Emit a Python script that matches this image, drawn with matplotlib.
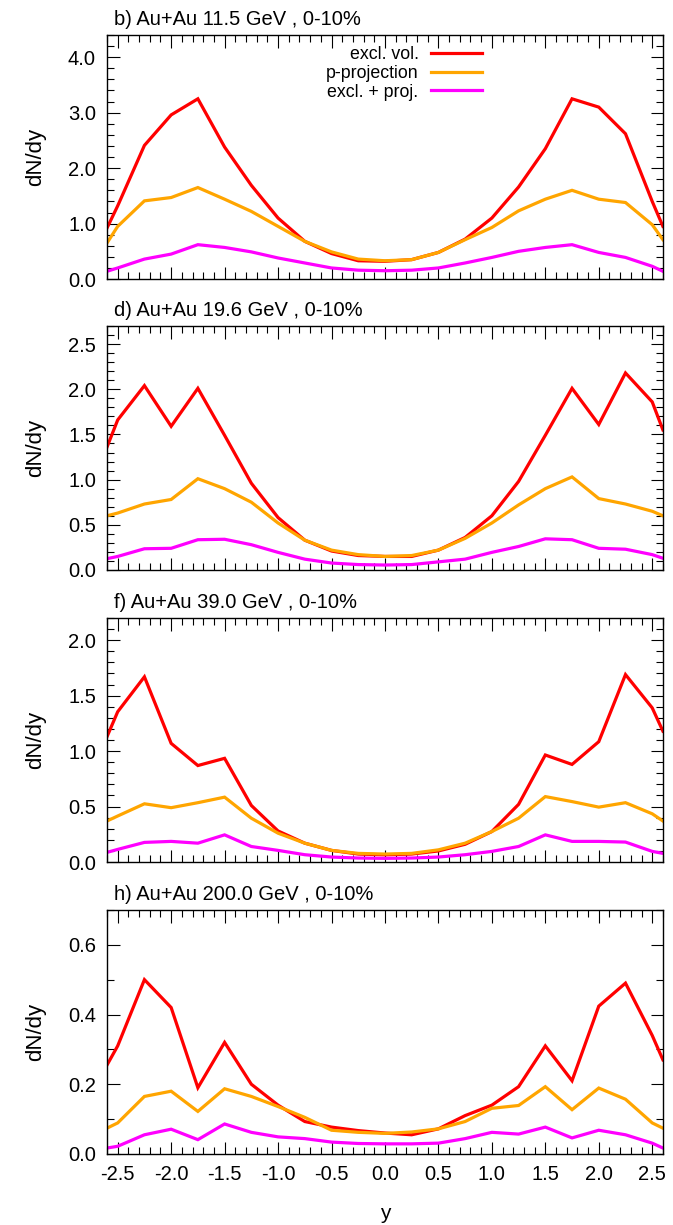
import matplotlib
matplotlib.use('Agg')
import matplotlib.pyplot as plt
from matplotlib.ticker import MultipleLocator, FormatStrFormatter

plt.rcParams['font.family'] = ['Liberation Sans', 'DejaVu Sans']

# rapidity grid
y = [-2.6, -2.5, -2.25, -2.0, -1.75, -1.5, -1.25, -1.0, -0.75, -0.5, -0.25, 0.0,
     0.25, 0.5, 0.75, 1.0, 1.25, 1.5, 1.75, 2.0, 2.25, 2.5, 2.6]

# 11.5 GeV
excl_115 = [0.92, 1.32, 2.41, 2.96, 3.25, 2.38, 1.69, 1.10, 0.68, 0.46, 0.33, 0.32,
            0.35, 0.48, 0.72, 1.10, 1.66, 2.35, 3.25, 3.10, 2.62, 1.40, 0.95]
proj_115 = [0.65, 0.95, 1.41, 1.47, 1.65, 1.44, 1.22, 0.95, 0.68, 0.49, 0.36, 0.33,
            0.35, 0.48, 0.71, 0.93, 1.23, 1.44, 1.60, 1.44, 1.38, 0.98, 0.71]
both_115 = [0.14, 0.20, 0.36, 0.45, 0.62, 0.57, 0.49, 0.38, 0.29, 0.20, 0.16, 0.15,
            0.16, 0.20, 0.29, 0.39, 0.50, 0.57, 0.62, 0.48, 0.39, 0.23, 0.14]

# 19.6 GeV
excl_196 = [1.36, 1.66, 2.04, 1.59, 2.01, 1.49, 0.96, 0.58, 0.33, 0.21, 0.16, 0.15,
            0.15, 0.22, 0.36, 0.60, 0.98, 1.49, 2.01, 1.61, 2.18, 1.86, 1.55]
proj_196 = [0.60, 0.63, 0.73, 0.78, 1.01, 0.90, 0.75, 0.52, 0.33, 0.22, 0.17, 0.15,
            0.16, 0.22, 0.35, 0.52, 0.72, 0.90, 1.03, 0.79, 0.73, 0.65, 0.60]
both_196 = [0.125, 0.15, 0.235, 0.24, 0.335, 0.34, 0.28, 0.195, 0.12, 0.077, 0.06, 0.055,
            0.06, 0.09, 0.12, 0.195, 0.26, 0.345, 0.335, 0.24, 0.23, 0.17, 0.13]

# 39.0 GeV
excl_390 = [1.13, 1.355, 1.67, 1.07, 0.87, 0.935, 0.51, 0.28, 0.17, 0.105, 0.072, 0.065,
            0.072, 0.10, 0.16, 0.275, 0.52, 0.965, 0.88, 1.085, 1.69, 1.39, 1.18]
proj_390 = [0.37, 0.415, 0.525, 0.49, 0.535, 0.585, 0.395, 0.26, 0.17, 0.105, 0.078, 0.072,
            0.078, 0.11, 0.17, 0.275, 0.395, 0.59, 0.545, 0.495, 0.535, 0.435, 0.37]
both_390 = [0.087, 0.114, 0.177, 0.186, 0.17, 0.245, 0.14, 0.105, 0.066, 0.045, 0.036, 0.033,
            0.036, 0.045, 0.066, 0.096, 0.14, 0.245, 0.186, 0.186, 0.18, 0.096, 0.078]

# 200.0 GeV
excl_200 = [0.255, 0.31, 0.50, 0.42, 0.19, 0.32, 0.20, 0.14, 0.093, 0.077, 0.067, 0.06,
            0.055, 0.072, 0.11, 0.14, 0.193, 0.31, 0.21, 0.424, 0.49, 0.34, 0.27]
proj_200 = [0.074, 0.089, 0.165, 0.18, 0.122, 0.187, 0.165, 0.136, 0.105, 0.068, 0.062, 0.059,
            0.063, 0.072, 0.093, 0.131, 0.139, 0.193, 0.127, 0.189, 0.157, 0.089, 0.074]
both_200 = [0.017, 0.022, 0.055, 0.071, 0.041, 0.086, 0.062, 0.049, 0.044, 0.034, 0.03, 0.029,
            0.029, 0.031, 0.044, 0.062, 0.057, 0.077, 0.046, 0.068, 0.055, 0.031, 0.017]

titles = ['b) Au+Au 11.5 GeV , 0-10%', 'd) Au+Au 19.6 GeV , 0-10%',
          'f) Au+Au 39.0 GeV , 0-10%', 'h) Au+Au 200.0 GeV , 0-10%']
series = [(excl_115, proj_115, both_115), (excl_196, proj_196, both_196),
          (excl_390, proj_390, both_390), (excl_200, proj_200, both_200)]
ymax = [4.4, 2.7, 2.2, 0.7]
ymajor = [1.0, 0.5, 0.5, 0.2]
yminor = [0.2, 0.1, 0.1, 0.1]

labels = ['excl. vol.', 'p-projection', 'excl. + proj.']
colors = ['#ff0000', '#ffa500', '#ff00ff']

fig = plt.figure(figsize=(6.73, 12.25), dpi=100)
bottoms = [0.7722, 0.5347, 0.2963, 0.0580]

for i in range(4):
    ax = fig.add_axes([0.159, bottoms[i], 0.826, 0.1992])
    for vals, lab, col in zip(series[i], labels, colors):
        ax.plot(y, vals, color=col, lw=2.3, label=lab, solid_joinstyle='miter')
    ax.set_xlim(-2.6, 2.6)
    ax.set_ylim(0, ymax[i])
    ax.xaxis.set_major_locator(MultipleLocator(0.5))
    ax.xaxis.set_minor_locator(MultipleLocator(0.1))
    ax.yaxis.set_major_locator(MultipleLocator(ymajor[i]))
    ax.yaxis.set_minor_locator(MultipleLocator(yminor[i]))
    ax.xaxis.set_major_formatter(FormatStrFormatter('%.1f'))
    ax.yaxis.set_major_formatter(FormatStrFormatter('%.1f'))
    ax.tick_params(which='both', direction='in', top=True, right=True, labelsize=14.5)
    ax.tick_params(which='major', length=9, width=0.8, pad=8)
    ax.tick_params(which='minor', length=5, width=0.8)
    for sp in ax.spines.values():
        sp.set_linewidth(1.0)
    ax.set_ylabel('dN/dy', fontsize=16, labelpad=16)
    ax.text(0.012, 1.025, titles[i], transform=ax.transAxes, fontsize=14.5,
            ha='left', va='bottom')
    if i < 3:
        ax.tick_params(labelbottom=False)
    else:
        ax.set_xlabel('y', fontsize=15, labelpad=14)
    if i == 0:
        ax.legend(loc='upper right', bbox_to_anchor=(0.674, 0.955), frameon=False,
                  markerfirst=False, fontsize=12.8, handlelength=2.85,
                  handletextpad=0.7, labelspacing=0.1, borderpad=0.0,
                  borderaxespad=0.0)
        # right-align the key text against the sample lines
        leg = ax.get_legend()
        leg._legend_box.align = 'right'

fig.savefig('out.png', dpi=100)
